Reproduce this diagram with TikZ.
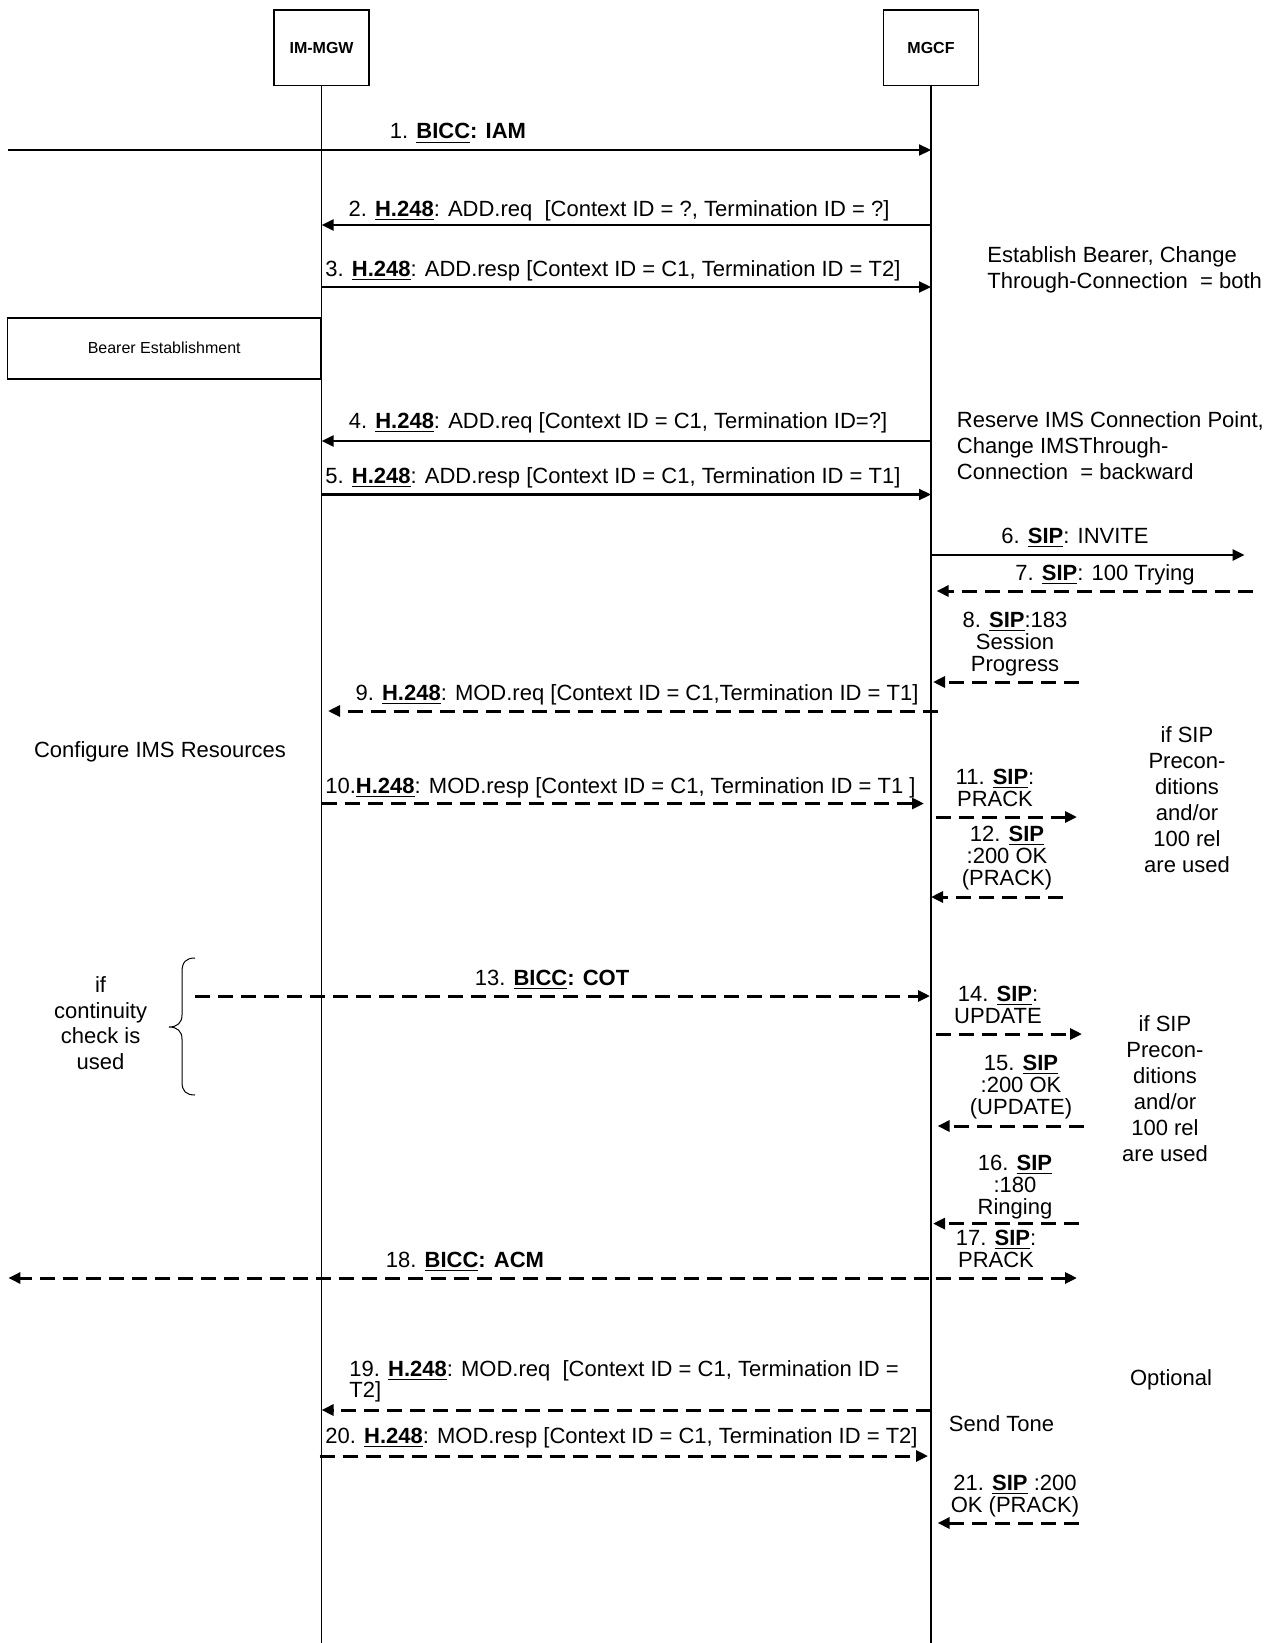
\documentclass[tikz,border=0pt]{standalone}
\usepackage{fontspec}
\setmainfont{Liberation Sans}
\usetikzlibrary{arrows.meta}
\newcommand{\ulb}[1]{\textbf{\underline{#1}}}
\begin{document}
\begin{tikzpicture}[x=0.5pt,y=-0.5pt,
  lbl/.style={font=\fontsize{11}{11}\selectfont, inner sep=0pt, anchor=base, align=center},
  lbll/.style={lbl, anchor=base west, align=left},
  note/.style={font=\fontsize{11}{13}\selectfont, inner sep=0pt, anchor=base, align=center},
  notel/.style={note, anchor=base west, align=left},
  entity/.style={draw, line width=0.75pt, minimum width=47.5pt, minimum height=37.75pt, inner sep=0pt, font=\fontsize{8}{9}\selectfont\bfseries},
  procbox/.style={draw, line width=0.75pt, minimum width=156.6pt, minimum height=30.5pt, inner sep=0pt, font=\fontsize{8}{9}\selectfont},
  lifeline/.style={line width=0.8pt},
  msg/.style={line width=1.1pt, -{Triangle[length=6pt,width=5.5pt]}},
  dmsg/.style={msg, line width=1.5pt, dash pattern=on 7.5pt off 4pt},
  bracestyle/.style={line width=0.5pt}
]
\useasboundingbox (0,0) rectangle (1276,1643);
% entities
\node[entity] (immgw) at (321.6,48) {IM-MGW};
\node[entity] (mgcf) at (931,48) {MGCF};
\draw[lifeline] (immgw.south) -- (immgw.south |- 0,1643);
\draw[lifeline] (mgcf.south) -- (mgcf.south |- 0,1643);
\node[procbox, anchor=north east] (bearer) at (immgw.south |- 0,317) {Bearer Establishment};

% free end coordinates
\coordinate (w1) at (8.4,150);
\coordinate (e6) at (1244.6,555);
\coordinate (e7) at (1253,591);
\coordinate (g7) at (936.6,591);
\coordinate (e8) at (1079,682);
\coordinate (g8) at (933,682);
\coordinate (s9) at (937.6,711);
\coordinate (t9) at (328,711);
\coordinate (t10) at (924,803.5);
\coordinate (s11) at (935.5,817);
\coordinate (e11) at (1077,817);
\coordinate (e12) at (1063,897);
\coordinate (w13) at (195,996);
\coordinate (t13) at (930,996);
\coordinate (s14) at (935.5,1034);
\coordinate (e14) at (1082,1034);
\coordinate (e15) at (1084,1126);
\coordinate (g15) at (937.6,1126);
\coordinate (e16) at (1079,1223.6);
\coordinate (g16) at (933,1223.6);
\coordinate (s17) at (935.5,1278);
\coordinate (e17) at (1077,1278);
\coordinate (s18) at (929,1278);
\coordinate (w18) at (8.4,1278);
\coordinate (s20) at (319.5,1456);
\coordinate (t20) at (928,1456);
\coordinate (e21) at (1079,1523);
\coordinate (g21) at (937.6,1523);

% messages
\draw[msg] (w1) -- (mgcf.south |- 0,150);
\node[lbl] (l1) at (458,139) {1. \ulb{BICC}\textbf{: IAM}};

\draw[msg] (mgcf.south |- 0,225) -- (immgw.south |- 0,225);
\node[lbl] (l2) at (619,216) {2. \ulb{H.248}: ADD.req\ \ [Context ID = ?, Termination ID = ?]};

\draw[msg] (immgw.south |- 0,287) -- (mgcf.south |- 0,287);
\node[lbll] (l3) at (325,276) {3. \ulb{H.248}: ADD.resp [Context ID = C1, Termination ID = T2]};

\node[notel] (n1) at (987,288) {Establish Bearer, Change\\Through-Connection\ \ = both};

\draw[msg] (mgcf.south |- 0,441) -- (immgw.south |- 0,441);
\node[lbl] (l4) at (618,428) {4. \ulb{H.248}: ADD.req [Context ID = C1, Termination ID=?]};

\draw[msg] (immgw.south |- 0,494.5) -- (mgcf.south |- 0,494.5);
\node[lbll] (l5) at (325,483) {5. \ulb{H.248}: ADD.resp [Context ID = C1, Termination ID = T1]};

\node[notel] (n2) at (956.5,479.5) {Reserve IMS Connection Point,\\Change IMSThrough-\\Connection\ \ = backward};

\draw[msg] (mgcf.south |- 0,555) -- (e6);
\node[lbl] (l6) at (1075,543) {6. \ulb{SIP}: INVITE};

\draw[dmsg] (e7) -- (g7);
\node[lbl] (l7) at (1105,580) {7. \ulb{SIP}: 100 Trying};

\draw[dmsg] (e8) -- (g8);
\node[lbl] (l8) at (1015,671) {8. \ulb{SIP}:183\\Session\\Progress};

\draw[dmsg] (s9) -- (t9);
\node[lbl] (l9) at (637,700.5) {9. \ulb{H.248}: MOD.req [Context ID = C1,Termination ID = T1]};

\node[note] (n3) at (160,757) {Configure IMS Resources};

\draw[dmsg] (immgw.south |- 0,803.5) -- (t10);
\node[lbll] (l10) at (325,793) {10.\ulb{H.248}: MOD.resp [Context ID = C1, Termination ID = T1 ]};

\node[note] (n4) at (1187,872) {if SIP\\Precon-\\ditions\\and/or\\100 rel\\are used};

\draw[dmsg] (s11) -- (e11);
\node[lbl] (l11) at (995,806) {11. \ulb{SIP}:\\PRACK};

\draw[dmsg] (e12) -- (mgcf.south |- 0,897);
\node[lbl] (l12) at (1007,885) {12. \ulb{SIP}\\:200 OK\\(PRACK)};

% brace
\draw[bracestyle] (195,958) .. controls (186,958) and (182,962) .. (182,972) -- (182,1015)
  .. controls (182,1023) and (177,1027) .. (169,1027)
  .. controls (177,1027) and (182,1031) .. (182,1039) -- (182,1082)
  .. controls (182,1091) and (186,1095) .. (195,1095);
\node[note, font=\fontsize{11}{12.75}\selectfont] (n5) at (100.6,1069) {if\\continuity\\check is\\used};

\draw[dmsg] (w13) -- (t13);
\node[lbl] (l13) at (552,985.5) {13. \ulb{BICC}\textbf{: COT}};

\draw[dmsg] (s14) -- (e14);
\node[lbl] (l14) at (998,1023) {14. \ulb{SIP}:\\UPDATE};

\node[note] (n6) at (1165,1161.5) {if SIP\\Precon-\\ditions\\and/or\\100 rel\\are used};

\draw[dmsg] (e15) -- (g15);
\node[lbl] (l15) at (1021,1114) {15. \ulb{SIP}\\:200 OK\\(UPDATE)};

\draw[dmsg] (e16) -- (g16);
\node[lbl] (l16) at (1015,1214) {16. \ulb{SIP}\\:180\\Ringing};

\draw[dmsg] (s17) -- (e17);
\node[lbl] (l17) at (996,1267) {17. \ulb{SIP}:\\PRACK};

\draw[dmsg] (s18) -- (w18);
\node[lbl] (l18) at (465,1267) {18. \ulb{BICC}\textbf{: ACM}};

\draw[dmsg] (mgcf.south |- 0,1410) -- (immgw.south |- 0,1410);
\node[lbll, font=\fontsize{11}{10.5}\selectfont] (l19) at (349,1397) {19. \ulb{H.248}: MOD.req\ \ [Context ID = C1, Termination ID =\\T2]};

\node[note] (n7) at (1171,1385) {Optional};
\node[note] (n8) at (1001.5,1431) {Send Tone};

\draw[dmsg] (s20) -- (t20);
\node[lbll] (l20) at (325,1443) {20. \ulb{H.248}: MOD.resp [Context ID = C1, Termination ID = T2]};

\draw[dmsg] (e21) -- (g21);
\node[lbl] (l21) at (1015,1512) {21. \ulb{SIP} :200\\OK (PRACK)};
\end{tikzpicture}
\end{document}
